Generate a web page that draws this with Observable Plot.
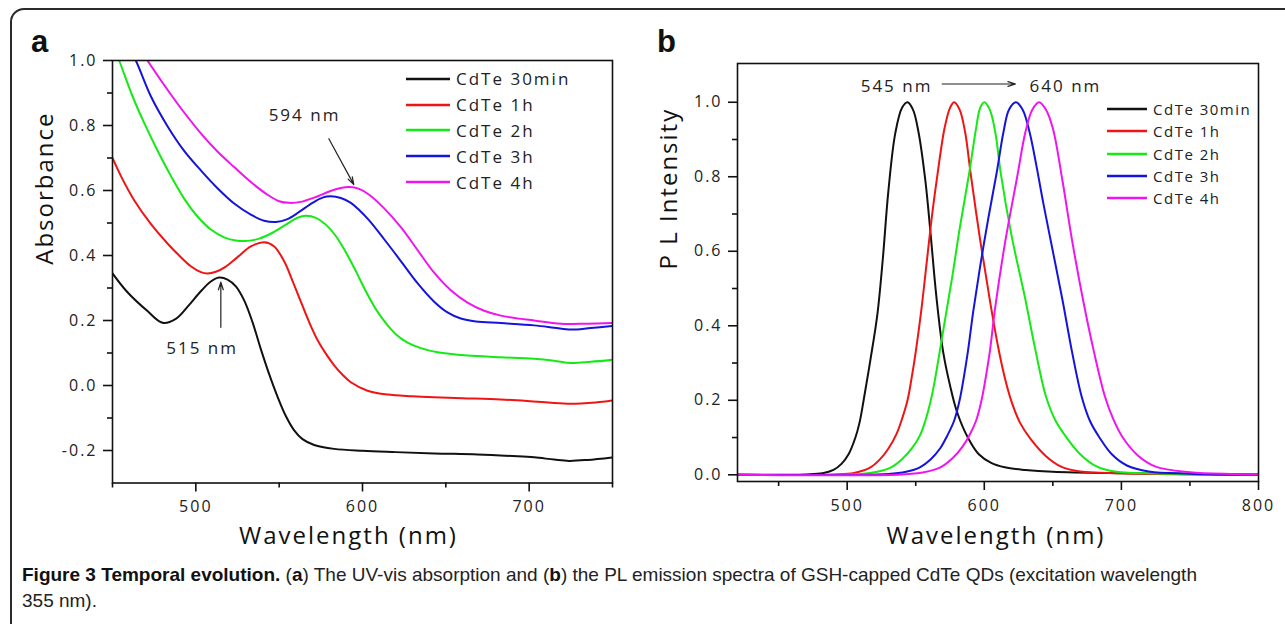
<!DOCTYPE html>
<html><head><meta charset="utf-8">
<script src="https://cdn.jsdelivr.net/npm/d3@7"></script>
<script src="https://cdn.jsdelivr.net/npm/@observablehq/plot@0.6"></script>
<style>
body{margin:0;background:#fff;width:1285px;height:624px;overflow:hidden;position:relative;font-family:"Open Sans",sans-serif;}
#border{position:absolute;left:10px;top:8px;width:1320px;height:700px;border:2px solid #2a2a2a;border-radius:14px;box-sizing:border-box;}
.panel{position:absolute;top:0;}
.plabel{position:absolute;font-family:"Liberation Sans",Arial,sans-serif;font-weight:bold;font-size:31px;color:#111;line-height:1;}
.legend{position:absolute;font-family:"Open Sans",sans-serif;color:#222;}
.legend .row{display:flex;align-items:center;white-space:nowrap;}
.legend .sw{display:inline-block;}
#caption{position:absolute;left:22px;top:562px;font-family:"Liberation Sans Narrow","Liberation Sans",sans-serif;font-size:19px;line-height:26px;color:#222;white-space:nowrap;}
#caption b{color:#111;}
</style></head>
<body>
<div id="border"></div>
<div class="panel" id="pa" style="left:0"></div>
<div class="panel" id="pb" style="left:640px"></div>
<div class="plabel" style="left:31px;top:26px">a</div>
<div class="plabel" style="left:657px;top:26px">b</div>
<div class="legend" id="lega" style="left:406px;top:66px;font-size:17px;letter-spacing:2px"></div>
<div class="legend" id="legb" style="left:1107px;top:98px;font-size:15px;letter-spacing:1.5px"></div>
<div id="caption"><b>Figure 3 Temporal evolution.</b> (<b>a</b>) The UV-vis absorption and (<b>b</b>) the PL emission spectra of GSH-capped CdTe QDs (excitation wavelength<br>355 nm).</div>
<script>
// ---------- series ----------
const seriesNames = ["CdTe 30min", "CdTe 1h", "CdTe 2h", "CdTe 3h", "CdTe 4h"];
const seriesColors = ["#111111", "#f01414", "#14ea14", "#1414dc", "#f014f0"];

// ---------- panel a: absorbance [wavelength nm, absorbance] ----------
const abs30min = [[450,0.345],[459,0.287],[471,0.229],[480,0.193],[488,0.205],[496,0.248],[503,0.29],[509,0.32],[514,0.332],[519,0.326],[524,0.305],[529,0.262],[534,0.195],[539,0.112],[544,0.035],[549,-0.034],[554,-0.094],[559,-0.138],[564,-0.165],[571,-0.183],[583,-0.195],[600,-0.201],[620,-0.205],[643,-0.209],[669,-0.212],[690,-0.217],[703,-0.221],[715,-0.228],[724,-0.232],[735,-0.229],[750,-0.221]];
const abs1h = [[450,0.70],[455,0.645],[463,0.57],[473,0.497],[483,0.437],[490,0.40],[497,0.367],[503,0.349],[507,0.345],[512,0.35],[518,0.366],[525,0.395],[533,0.428],[541,0.441],[547,0.428],[553,0.382],[558,0.322],[563,0.258],[568,0.195],[573,0.14],[578,0.098],[583,0.062],[588,0.033],[593,0.01],[603,-0.016],[615,-0.028],[630,-0.033],[643,-0.036],[660,-0.039],[683,-0.043],[705,-0.05],[723,-0.056],[740,-0.052],[750,-0.046]];
const abs2h = [[450,1.05],[454,1.0],[462,0.89],[469,0.808],[477,0.723],[485,0.645],[493,0.575],[501,0.52],[509,0.48],[517,0.456],[524,0.446],[531,0.445],[538,0.452],[546,0.47],[554,0.495],[561,0.516],[566,0.522],[572,0.516],[578,0.495],[584,0.46],[590,0.41],[596,0.352],[602,0.29],[608,0.235],[614,0.192],[620,0.158],[627,0.132],[635,0.115],[645,0.102],[663,0.092],[683,0.087],[703,0.082],[715,0.076],[725,0.069],[737,0.073],[750,0.079]];
const abs3h = [[450,1.17],[456,1.08],[464,1.0],[473,0.89],[483,0.798],[493,0.722],[503,0.662],[513,0.607],[523,0.56],[533,0.526],[541,0.507],[548,0.503],[555,0.512],[562,0.534],[570,0.562],[576,0.578],[581,0.582],[587,0.577],[593,0.562],[598,0.54],[604,0.508],[613,0.45],[623,0.383],[633,0.315],[643,0.258],[651,0.225],[659,0.206],[668,0.197],[683,0.192],[703,0.185],[715,0.178],[725,0.172],[737,0.177],[750,0.183]];
const abs4h = [[450,1.18],[460,1.09],[471,1.0],[483,0.91],[493,0.84],[503,0.776],[513,0.72],[523,0.672],[533,0.626],[543,0.587],[550,0.567],[556,0.562],[563,0.565],[571,0.578],[580,0.597],[587,0.608],[592,0.611],[598,0.605],[604,0.587],[613,0.545],[623,0.487],[633,0.417],[643,0.347],[653,0.293],[663,0.255],[673,0.23],[683,0.215],[703,0.2],[719,0.19],[735,0.19],[750,0.192]];

// ---------- panel b: PL intensity [wavelength nm, intensity] ----------
const pl30min = [[420,0],[470,0.001],[482,0.004],[490,0.013],[496,0.03],[501,0.055],[506,0.1],[509,0.14],[512,0.2],[517,0.31],[522,0.43],[526,0.58],[530,0.76],[535,0.915],[540,0.985],[544,1.0],[548,0.98],[552,0.92],[557,0.79],[561,0.64],[565,0.48],[570,0.33],[575,0.24],[580,0.17],[588,0.1],[596,0.055],[605,0.032],[615,0.02],[630,0.013],[650,0.008],[700,0.004],[750,0.002],[800,0.001]];
const pl1h = [[420,0],[490,0.001],[505,0.005],[517,0.02],[524,0.042],[530,0.07],[536,0.11],[540,0.15],[544,0.2],[547,0.26],[550,0.33],[554,0.44],[558,0.57],[562,0.7],[566,0.81],[571,0.93],[575,0.985],[578,1.0],[582,0.98],[586,0.92],[590,0.81],[597,0.63],[604,0.47],[610,0.345],[615,0.26],[620,0.195],[626,0.14],[634,0.095],[645,0.05],[656,0.022],[670,0.009],[700,0.004],[750,0.001],[800,0]];
const pl2h = [[420,0],[510,0.002],[522,0.008],[532,0.02],[540,0.042],[547,0.07],[553,0.105],[557,0.145],[561,0.2],[564,0.255],[567,0.32],[572,0.43],[577,0.54],[582,0.66],[589,0.81],[594,0.93],[597,0.985],[600,1.0],[604,0.98],[608,0.92],[612,0.81],[620,0.64],[630,0.47],[637,0.34],[645,0.21],[652,0.145],[660,0.1],[670,0.055],[680,0.026],[690,0.012],[700,0.007],[750,0.002],[800,0]];
const pl3h = [[420,0],[530,0.002],[543,0.008],[553,0.02],[561,0.042],[568,0.072],[573,0.105],[578,0.145],[582,0.2],[585,0.26],[588,0.33],[592,0.44],[597,0.56],[603,0.69],[609,0.81],[614,0.92],[618,0.98],[623,1.0],[628,0.98],[633,0.92],[638,0.83],[643,0.73],[650,0.6],[657,0.47],[664,0.33],[671,0.21],[677,0.145],[684,0.1],[693,0.055],[704,0.025],[720,0.009],[750,0.003],[800,0]];
const pl4h = [[420,0],[540,0.001],[556,0.007],[568,0.02],[577,0.045],[584,0.075],[589,0.105],[594,0.145],[598,0.2],[601,0.26],[604,0.33],[608,0.45],[615,0.62],[624,0.8],[630,0.92],[635,0.98],[640,1.0],[645,0.98],[650,0.93],[657,0.79],[664,0.63],[672,0.47],[680,0.33],[688,0.21],[694,0.15],[701,0.1],[712,0.052],[725,0.022],[750,0.007],[780,0.002],[800,0.001]];

// ---------- ticks ----------
const absXTicks = [500, 600, 700];
const absXMinor = [450, 550, 650, 750];
const absYTicks = [-0.2, 0.0, 0.2, 0.4, 0.6, 0.8, 1.0];
const absYMinor = [-0.1, 0.1, 0.3, 0.5, 0.7, 0.9];
const plXTicks = [500, 600, 700, 800];
const plXMinor = [450, 550, 650, 750];
const plYTicks = [0.0, 0.2, 0.4, 0.6, 0.8, 1.0];
const plYMinor = [0.1, 0.3, 0.5, 0.7, 0.9];

// ---------- annotations ----------
const absNotes = [{text: "594 nm", x: 565.2, y: 0.831}, {text: "515 nm", x: 503.8, y: 0.113}];
const absArrows = [{x1: 579.8, y1: 0.759, x2: 594.8, y2: 0.618}, {x1: 515, y1: 0.179, x2: 515, y2: 0.318}];
const plNotes = [{text: "545 nm", x: 536, y: 1.042}, {text: "640 nm", x: 659.2, y: 1.042}];
const plArrows = [{x1: 569.3, y1: 1.049, x2: 622.8, y2: 1.049}];

const absSeries = [abs30min, abs1h, abs2h, abs3h, abs4h];
const plSeries = [pl30min, pl1h, pl2h, pl3h, pl4h];
const toTable = arr => seriesNames.flatMap((s, i) => arr[i].map(([x, y]) => ({s, x, y})));
const fmt = d => d.toFixed(1);

function panel({data, xDomain, yDomain, xTicks, xMinor, yTicks, yMinor, notes, arrows, width, height, margins, yTitle, xTitleDx, xTitleDy, yTitleDx, yTitleDy, yTitleSize, yTitleSpacing}) {
  const svg = Plot.plot({
    width, height, ...margins,
    style: {fontFamily: "'Open Sans', sans-serif", fontSize: "16px", color: "#222", background: "transparent", overflow: "visible"},
    x: {domain: xDomain, label: null},
    y: {domain: yDomain, label: null},
    color: {domain: seriesNames, range: seriesColors},
    marks: [
      Plot.line(toTable(data), {x: "x", y: "y", z: "s", stroke: "s", curve: "catmull-rom", strokeWidth: 2, clip: true}),
      Plot.frame({stroke: "#111", strokeWidth: 1.6}),
      Plot.axisX(xTicks, {tickSize: 9, tickPadding: 9, tickFormat: d => String(d), fontSize: 16, fill: "#222", stroke: "#111", strokeWidth: 1.6, label: null}),
      Plot.axisX(xMinor, {tickSize: 5, tickFormat: () => "", stroke: "#111", strokeWidth: 1.6, label: null}),
      Plot.axisY(yTicks, {tickSize: 9, tickPadding: 6, tickFormat: fmt, fontSize: 16, fill: "#222", stroke: "#111", strokeWidth: 1.6, label: null}),
      Plot.axisY(yMinor, {tickSize: 5, tickFormat: () => "", stroke: "#111", strokeWidth: 1.6, label: null}),
      Plot.text(notes, {x: "x", y: "y", text: "text", fontSize: 17, fill: "#222", textAnchor: "middle"}),
      Plot.arrow(arrows, {x1: "x1", y1: "y1", x2: "x2", y2: "y2", stroke: "#222", strokeWidth: 1.2, headLength: 10, headAngle: 35}),
      Plot.text(["Wavelength (nm)"], {text: d => d, frameAnchor: "bottom", dx: xTitleDx, dy: xTitleDy, fontSize: 24, fill: "#111", lineAnchor: "middle", ariaLabel: "xtitle"}),
      Plot.text([yTitle], {text: d => d, frameAnchor: "left", rotate: -90, dx: yTitleDx, dy: yTitleDy, fontSize: yTitleSize, fill: "#111", lineAnchor: "middle", ariaLabel: "ytitle"})
    ]
  });
  svg.style.letterSpacing = "2px";
  svg.querySelectorAll('g[aria-label="xtitle"] text').forEach(t => t.style.letterSpacing = "3.5px");
  svg.querySelectorAll('g[aria-label="ytitle"] text').forEach(t => t.style.letterSpacing = yTitleSpacing);
  return svg;
}

document.getElementById("pa").appendChild(panel({
  data: absSeries, xDomain: [450, 750], yDomain: [-0.3, 1.0],
  xTicks: absXTicks, xMinor: absXMinor, yTicks: absYTicks, yMinor: absYMinor,
  notes: absNotes, arrows: absArrows, width: 640, height: 560,
  margins: {marginLeft: 112, marginRight: 28, marginTop: 60, marginBottom: 77.5},
  yTitle: "Absorbance", xTitleDx: -14, xTitleDy: 53, yTitleDx: -67, yTitleDy: -7, yTitleSize: 24, yTitleSpacing: "3.5px"
}));
document.getElementById("pb").appendChild(panel({
  data: plSeries, xDomain: [420, 800], yDomain: [-0.018, 1.104],
  xTicks: plXTicks, xMinor: plXMinor, yTicks: plYTicks, yMinor: plYMinor,
  notes: plNotes, arrows: plArrows, width: 645, height: 560,
  margins: {marginLeft: 97, marginRight: 27, marginTop: 63, marginBottom: 79},
  yTitle: "P L Intensity", xTitleDx: -2, xTitleDy: 55, yTitleDx: -68, yTitleDy: -3, yTitleSize: 24, yTitleSpacing: "2px"
}));

// ---------- legends ----------
function legend(id, rowH, swW, gap, lw) {
  const el = document.getElementById(id);
  seriesNames.forEach((name, i) => {
    const row = document.createElement("div");
    row.className = "row";
    row.style.height = rowH + "px";
    row.innerHTML = `<svg class="sw" width="${swW}" height="6" style="margin-right:${gap}px"><line x1="0" x2="${swW}" y1="3" y2="3" stroke="${seriesColors[i]}" stroke-width="${lw}"/></svg><span>${name}</span>`;
    el.appendChild(row);
  });
}
legend("lega", 25.8, 44, 6, 2.5);
legend("legb", 22.3, 40, 6, 2.5);
</script>
</body></html>
